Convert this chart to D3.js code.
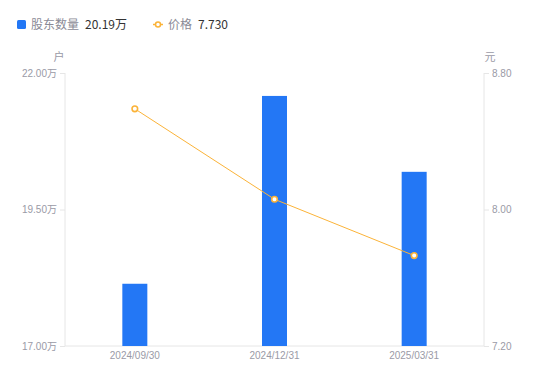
<!DOCTYPE html>
<html>
<head>
<meta charset="utf-8">
<script src="https://cdn.jsdelivr.net/npm/d3@7"></script>
<style>
  body { margin: 0; background: #fff; }
  svg { display: block; font-family: "Noto Sans CJK SC", "Noto Sans", sans-serif; }
</style>
</head>
<body>
<div id="chart"></div>
<script>
// data
var dates = ['2024/09/30', '2024/12/31', '2025/03/31'];
var holders = [18.14, 21.58, 20.19];   // 万户
var prices = [8.59, 8.06, 7.73];       // 元
var leftTicks = [17.00, 19.50, 22.00];
var rightTicks = [7.20, 8.00, 8.80];

var width = 550, height = 381;
var plotL = 65, plotR = 484, plotT = 73, plotB = 346;

var svg = d3.select('#chart').append('svg')
  .attr('width', width).attr('height', height);

var x = d3.scaleBand().domain(dates).range([plotL, plotR]);
var yL = d3.scaleLinear().domain([17, 22]).range([plotB, plotT]);
var yR = d3.scaleLinear().domain([7.2, 8.8]).range([plotB, plotT]);

var gridColor = '#e6e6e6';
var labelColor = '#9a9aa6';

// axes
var axL = svg.append('g').attr('transform', 'translate(' + plotL + ',0)')
  .call(d3.axisLeft(yL).tickValues(leftTicks).tickSize(5).tickPadding(3)
    .tickFormat(function(d) { return d.toFixed(2) + '万'; }));
var axR = svg.append('g').attr('transform', 'translate(' + plotR + ',0)')
  .call(d3.axisRight(yR).tickValues(rightTicks).tickSize(5).tickPadding(3)
    .tickFormat(function(d) { return d.toFixed(2); }));
var axB = svg.append('g').attr('transform', 'translate(0,' + plotB + ')')
  .call(d3.axisBottom(x).tickSize(0).tickPadding(6));

[axL, axR, axB].forEach(function(ax) {
  ax.select('.domain').attr('stroke', gridColor);
  ax.selectAll('.tick line').attr('stroke', gridColor);
  ax.selectAll('.tick text').attr('fill', labelColor)
    .attr('font-size', 10)
    .attr('font-family', '"Liberation Sans", Arial, "Noto Sans CJK SC", sans-serif');
});
axL.select('.domain').attr('d', 'M0,' + plotT + 'V' + plotB);
axR.select('.domain').attr('d', 'M0,' + plotT + 'V' + plotB);
axB.select('.domain').attr('d', 'M' + plotL + ',0H' + plotR);

// units
svg.append('text').attr('x', 59).attr('y', 61).attr('text-anchor', 'middle')
  .attr('font-size', 11).attr('fill', labelColor).text('户');
svg.append('text').attr('x', 490).attr('y', 61).attr('text-anchor', 'middle')
  .attr('font-size', 11).attr('fill', labelColor).text('元');

// bars
var barW = 25;
svg.selectAll('.bar').data(holders).enter().append('rect')
  .attr('class', 'bar')
  .attr('x', function(d, i) { return x(dates[i]) + x.bandwidth() / 2 - barW / 2; })
  .attr('y', function(d) { return yL(d); })
  .attr('width', barW)
  .attr('height', function(d) { return plotB - yL(d); })
  .attr('fill', '#2377f5');

// price line
var orange = '#fbb338';
var line = d3.line()
  .x(function(d, i) { return x(dates[i]) + x.bandwidth() / 2; })
  .y(function(d) { return yR(d); });
svg.append('path').datum(prices).attr('d', line)
  .attr('fill', 'none').attr('stroke', orange).attr('stroke-width', 1);
svg.selectAll('.pt').data(prices).enter().append('circle')
  .attr('cx', function(d, i) { return x(dates[i]) + x.bandwidth() / 2; })
  .attr('cy', function(d) { return yR(d); })
  .attr('r', 2.8).attr('fill', '#fff').attr('stroke', orange).attr('stroke-width', 1.6);

// legend
var lg = svg.append('g');
lg.append('rect').attr('x', 17).attr('y', 20).attr('width', 9).attr('height', 9)
  .attr('rx', 1.5).attr('fill', '#2377f5');
lg.append('text').attr('x', 31).attr('y', 29).attr('font-size', 12)
  .attr('fill', '#8a8a96').text('股东数量');
lg.append('text').attr('x', 85).attr('y', 29).attr('font-size', 12)
  .attr('fill', '#333').text('20.19万');
lg.append('line').attr('x1', 153).attr('x2', 163).attr('y1', 24.5).attr('y2', 24.5)
  .attr('stroke', orange).attr('stroke-width', 1.5);
lg.append('circle').attr('cx', 158).attr('cy', 24.5).attr('r', 2.5)
  .attr('fill', '#fff').attr('stroke', orange).attr('stroke-width', 1.5);
lg.append('text').attr('x', 168).attr('y', 29).attr('font-size', 12)
  .attr('fill', '#8a8a96').text('价格');
lg.append('text').attr('x', 198).attr('y', 29).attr('font-size', 12)
  .attr('fill', '#333').text('7.730');
</script>
</body>
</html>
